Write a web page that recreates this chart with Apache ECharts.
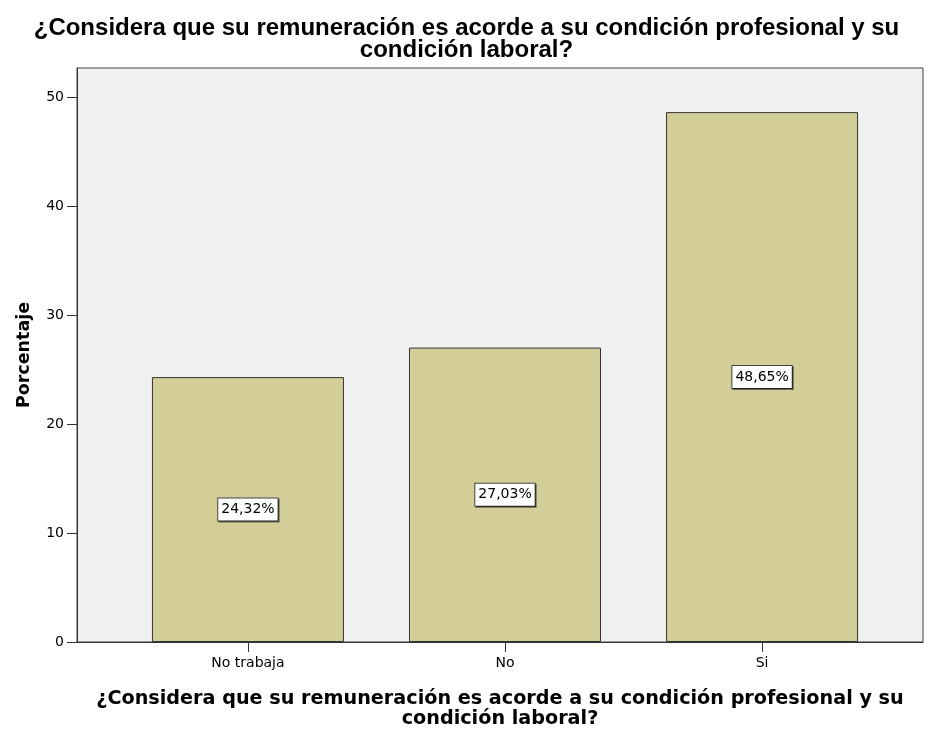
<!DOCTYPE html>
<html>
<head>
<meta charset="utf-8">
<script src="https://cdn.jsdelivr.net/npm/echarts@6/dist/echarts.min.js"></script>
<style>
  html, body { margin: 0; padding: 0; background: #fff; }
  #chart { width: 933px; height: 731px; }
</style>
</head>
<body>
<div id="chart"></div>
<script>
var categories = ['No trabaja', 'No', 'Si'];
var percents = [24.32, 27.03, 48.65];
var yTicks = [0, 10, 20, 30, 40, 50];
var xTicks = [0, 1, 2];

var titleText = '¿Considera que su remuneración es acorde a su condición profesional y su\ncondición laboral?';

var chart = echarts.init(document.getElementById('chart'));

chart.setOption({
    backgroundColor: '#ffffff',
    animation: false,
    title: {
        text: titleText,
        left: 'center',
        top: 13,
        textStyle: {
            fontFamily: 'Liberation Sans',
            fontWeight: 'bold',
            fontSize: 24,
            lineHeight: 21.5,
            color: '#000'
        }
    },
    grid: {
        left: 77,
        right: 10,
        top: 68,
        bottom: 89,
        outerBoundsMode: 'none',
        containLabel: false,
        show: true,
        backgroundColor: '#f0f0f0',
        borderColor: '#444',
        borderWidth: 1
    },
    xAxis: {
        type: 'value',
        min: -0.665,
        max: 2.626,
        name: titleText,
        nameLocation: 'middle',
        nameGap: 47,
        nameTextStyle: {
            fontFamily: 'DejaVu Sans',
            fontWeight: 'bold',
            fontSize: 19.2,
            lineHeight: 20,
            color: '#000'
        },
        splitLine: { show: false },
        axisLine: { show: true, onZero: false, lineStyle: { color: '#333' } },
        axisTick: { show: true, length: 10, customValues: xTicks, lineStyle: { color: '#333' } },
        axisLabel: {
            customValues: xTicks,
            formatter: function (v) { return categories[Math.round(v)]; },
            fontFamily: 'DejaVu Sans',
            fontSize: 14,
            color: '#000',
            margin: 14
        }
    },
    yAxis: {
        type: 'value',
        min: 0,
        max: 52.7,
        interval: 10,
        name: 'Porcentaje',
        nameLocation: 'middle',
        nameGap: 44,
        nameTextStyle: {
            fontFamily: 'DejaVu Sans',
            fontWeight: 'bold',
            fontSize: 17.5,
            color: '#000'
        },
        splitLine: { show: false },
        axisLine: { show: true, onZero: false, lineStyle: { color: '#333' } },
        axisTick: { show: true, length: 10, customValues: yTicks, lineStyle: { color: '#333' } },
        axisLabel: {
            customValues: yTicks,
            fontFamily: 'DejaVu Sans',
            fontSize: 14,
            color: '#000',
            margin: 13
        }
    },
    series: [{
        type: 'bar',
        barWidth: 192,
        data: percents.map(function (v, i) { return [i, v]; }),
        itemStyle: {
            color: '#d3ce98',
            borderColor: '#333',
            borderWidth: 1
        },
        label: {
            show: true,
            position: 'inside',
            formatter: function (p) { return p.value[1].toFixed(2).replace('.', ',') + '%'; },
            fontFamily: 'DejaVu Sans',
            fontSize: 14,
            color: '#000',
            backgroundColor: '#fff',
            borderColor: '#444',
            borderWidth: 1,
            padding: [4, 3, 4, 3],
            shadowColor: 'rgba(0,0,0,0.5)',
            shadowOffsetX: 1,
            shadowOffsetY: 1,
            shadowBlur: 0
        }
    }]
});
</script>
</body>
</html>
